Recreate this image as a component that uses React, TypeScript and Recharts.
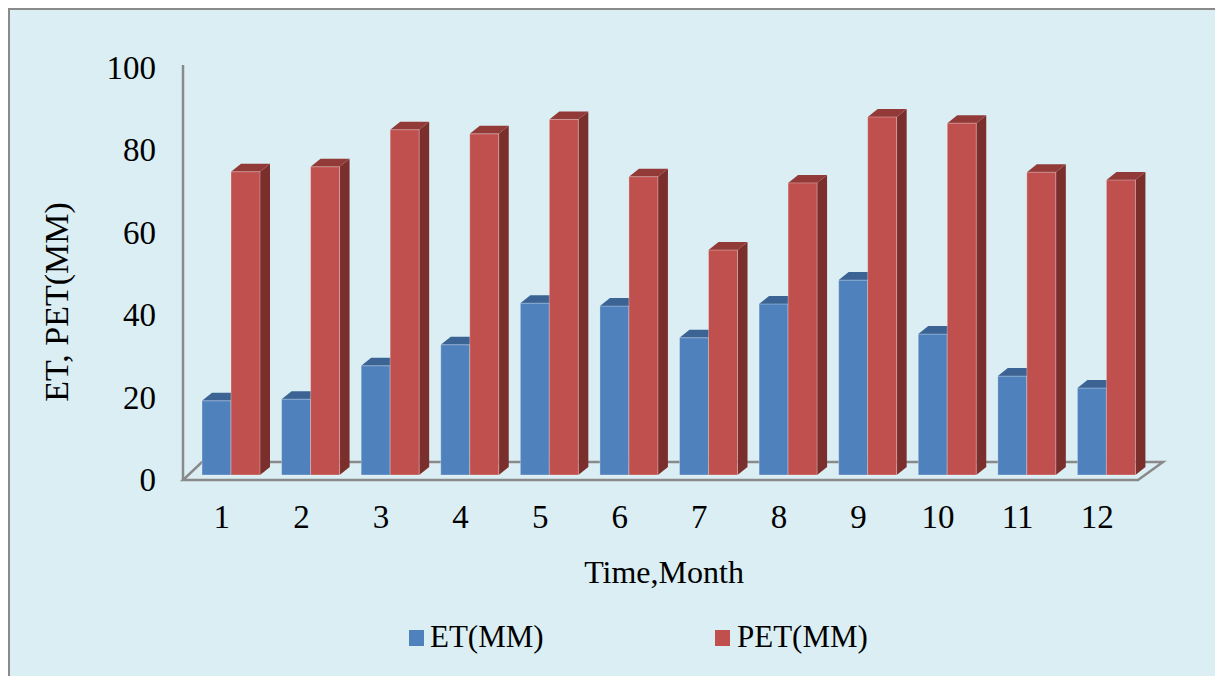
import React from 'react';
import { Bar, BarChart, XAxis, YAxis } from 'recharts';

const months = ['1', '2', '3', '4', '5', '6', '7', '8', '9', '10', '11', '12'];
const etValues = [18.0, 18.4, 26.5, 31.6, 41.7, 41.0, 33.3, 41.5, 47.3, 34.2, 24.0, 21.1];
const petValues = [73.6, 74.8, 83.8, 82.8, 86.3, 72.4, 54.6, 70.9, 86.9, 85.4, 73.5, 71.6];
const yTicks = [0, 20, 40, 60, 80, 100];

const SERIES = [
  { key: 'et', name: 'ET(MM)', front: '#4F81BD', top: '#3B6494', side: '#2F5480' },
  { key: 'pet', name: 'PET(MM)', front: '#C0504D', top: '#923A38', side: '#7B2F2D' },
];

const data = months.map((m, i) => ({ month: m, et: etValues[i], pet: petValues[i] }));

const FONT = '"Liberation Serif", "Times New Roman", serif';
const BG = '#DAEEF3';
const AXIS_GRAY = '#8A8A8A';

// chart geometry (relative to the framed box)
const W = 1200;
const H = 660;
const PLOT_LEFT = 173;
const PLOT_RIGHT = 1136;
const PLOT_TOP = 53;
const PLOT_BOTTOM = 465;
const DEPTH_X = 10;
const DEPTH_Y = 8;

function Box3D(props: any) {
  const { x, y, width, height, front, top, side } = props;
  if (height == null || width == null) return null;
  const w = width;
  const h = height;
  return (
    <g>
      <path
        d={`M${x + w},${y} L${x + w + DEPTH_X},${y - DEPTH_Y} L${x + w + DEPTH_X},${y + h - DEPTH_Y} L${x + w},${y + h} Z`}
        fill={side}
      />
      <path
        d={`M${x},${y} L${x + DEPTH_X},${y - DEPTH_Y} L${x + w + DEPTH_X},${y - DEPTH_Y} L${x + w},${y} Z`}
        fill={top}
      />
      <rect x={x} y={y} width={w} height={h} fill={front} stroke="rgba(255,255,255,0.3)" strokeWidth={1} />
    </g>
  );
}

function YTick(props: any) {
  const { y, payload } = props;
  return (
    <text x={146} y={y + 16} textAnchor="end" fontFamily={FONT} fontSize={33} fill="#000">
      {payload.value}
    </text>
  );
}

function XTick(props: any) {
  const { x, payload } = props;
  return (
    <text x={x - 9} y={518} textAnchor="middle" fontFamily={FONT} fontSize={33} fill="#000">
      {payload.value}
    </text>
  );
}

function Backdrop() {
  // axis wall line and the 3D floor
  const fx0 = PLOT_LEFT;
  const fx1 = 1128;
  const fy = PLOT_BOTTOM + 5;
  const bx = 19;
  const by = 18;
  return (
    <svg width={W} height={H} style={{ position: 'absolute', left: 0, top: 0 }}>
      <line x1={PLOT_LEFT} y1={PLOT_TOP + 2} x2={PLOT_LEFT} y2={fy} stroke={AXIS_GRAY} strokeWidth={2.5} />
      <path
        d={`M${fx0},${fy} L${fx1},${fy} L${fx1 + 25},${fy - by} L${fx0 + bx},${fy - by} Z`}
        fill="none"
        stroke={AXIS_GRAY}
        strokeWidth={2.5}
        strokeLinejoin="miter"
      />
    </svg>
  );
}

function LegendRow() {
  const items = [
    { sx: 399, tx: 420 },
    { sx: 705, tx: 727 },
  ];
  return (
    <svg width={W} height={H} style={{ position: 'absolute', left: 0, top: 0 }}>
      {SERIES.map((s, i) => (
        <g key={s.key}>
          <rect x={items[i].sx} y={620} width={15} height={16} fill={s.front} />
          <text x={items[i].tx} y={637} fontFamily={FONT} fontSize={31} fill="#000">
            {s.name}
          </text>
        </g>
      ))}
    </svg>
  );
}

export default function App() {
  return (
    <div
      style={{
        position: 'fixed',
        left: 8,
        top: 8,
        width: 1207,
        height: 668,
        boxSizing: 'border-box',
        background: BG,
        borderTop: `2px solid ${AXIS_GRAY}`,
        borderLeft: `2px solid ${AXIS_GRAY}`,
        overflow: 'hidden',
      }}
    >
      <Backdrop />
      <div style={{ position: 'absolute', left: 0, top: 0 }}>
        <BarChart
          width={W}
          height={H}
          data={data}
          barGap={0}
          margin={{ top: PLOT_TOP, right: W - PLOT_RIGHT, bottom: H - PLOT_BOTTOM - 60, left: 0 }}
        >
          <XAxis
            dataKey="month"
            height={60}
            padding={{ left: 8, right: 0 }}
            axisLine={false}
            tickLine={false}
            tick={<XTick />}
            interval={0}
            label={{
              content: () => (
                <text x={654} y={573} textAnchor="middle" fontFamily={FONT} fontSize={32} fill="#000">
                  Time,Month
                </text>
              ),
            }}
          />
          <YAxis
            width={PLOT_LEFT}
            domain={[0, 100]}
            ticks={yTicks}
            axisLine={false}
            tickLine={false}
            tick={<YTick />}
            label={{
              content: () => (
                <text
                  x={58}
                  y={292}
                  transform="rotate(-90, 58, 292)"
                  textAnchor="middle"
                  fontFamily={FONT}
                  fontSize={34}
                  fill="#000"
                >
                  ET, PET(MM)
                </text>
              ),
            }}
          />
          {SERIES.map((s) => (
            <Bar
              key={s.key}
              dataKey={s.key}
              name={s.name}
              barSize={29}
              isAnimationActive={false}
              shape={(p: any) => <Box3D {...p} front={s.front} top={s.top} side={s.side} />}
            />
          ))}
        </BarChart>
      </div>
      <LegendRow />
    </div>
  );
}
